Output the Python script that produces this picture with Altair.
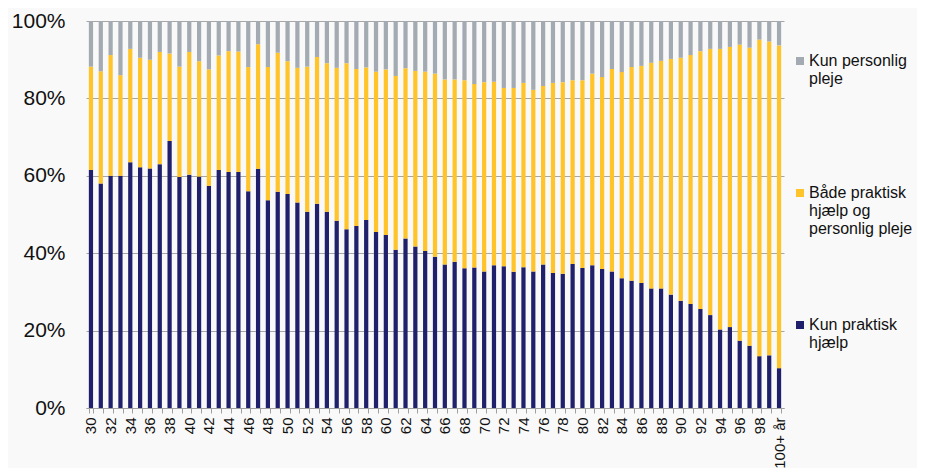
import altair as alt
import pandas as pd

ages = [str(a) for a in range(30, 100)] + ["100+ år"]

kun_praktisk = [
    61.5, 58.0, 60.0, 60.0, 63.5, 62.2, 61.9, 63.0, 69.0, 59.7,
    60.3, 59.8, 57.4, 61.5, 61.0, 61.0, 56.0, 61.8, 53.7, 55.9,
    55.3, 53.1, 50.7, 52.8, 50.7, 48.4, 46.2, 47.0, 48.6, 45.5,
    44.7, 40.9, 43.8, 41.7, 40.6, 39.1, 37.1, 37.8, 36.1, 36.3,
    35.3, 36.9, 36.6, 35.2, 36.4, 35.3, 37.1, 34.9, 34.7, 37.2,
    36.2, 36.9, 35.9, 35.3, 33.5, 32.9, 32.3, 30.9, 30.9, 29.3,
    27.7, 26.9, 25.6, 24.0, 20.3, 20.9, 17.4, 16.1, 13.4, 13.6,
    10.3,
]
begge = [
    26.7, 29.0, 31.2, 26.0, 29.3, 28.3, 28.1, 29.0, 22.6, 28.5,
    31.7, 29.8, 30.1, 29.6, 31.2, 31.1, 32.1, 32.2, 34.4, 35.9,
    34.3, 34.8, 37.5, 37.9, 38.4, 39.5, 42.9, 40.6, 39.4, 41.4,
    42.8, 44.9, 44.0, 45.4, 46.3, 47.3, 47.8, 47.1, 48.6, 47.4,
    48.9, 47.4, 46.1, 47.5, 47.6, 46.9, 46.1, 49.1, 49.5, 47.5,
    48.5, 49.5, 49.6, 52.3, 53.3, 55.2, 56.1, 58.3, 58.8, 60.9,
    62.8, 64.3, 66.6, 68.8, 72.5, 72.4, 76.5, 77.0, 81.8, 81.1,
    83.4,
]
kun_personlig = [
    11.8, 13.0, 8.8, 14.0, 7.2, 9.5, 10.0, 8.0, 8.4, 11.8,
    8.0, 10.4, 12.5, 8.9, 7.8, 7.9, 11.9, 6.0, 11.9, 8.2,
    10.4, 12.1, 11.8, 9.3, 10.9, 12.1, 10.9, 12.4, 12.0, 13.1,
    12.5, 14.2, 12.2, 12.9, 13.1, 13.6, 15.1, 15.1, 15.3, 16.3,
    15.8, 15.7, 17.3, 17.3, 16.0, 17.8, 16.8, 16.0, 15.8, 15.3,
    15.3, 13.6, 14.5, 12.4, 13.2, 11.9, 11.6, 10.8, 10.3, 9.8,
    9.5, 8.8, 7.8, 7.2, 7.2, 6.7, 6.1, 6.9, 4.8, 5.3,
    6.3,
]

series_names = [
    "Kun personlig pleje",
    "Både praktisk hjælp og personlig pleje",
    "Kun praktisk hjælp",
]
series_colors = ["#A3AAB1", "#FFC42A", "#1F1F6C"]

rows = []
for i, age in enumerate(ages):
    for order, (name, vals) in enumerate([
        (series_names[2], kun_praktisk),
        (series_names[1], begge),
        (series_names[0], kun_personlig),
    ]):
        rows.append({"alder": age, "gruppe": name, "andel": vals[i], "orden": order})
df = pd.DataFrame(rows)

legend_label_expr = (
    "datum.label == 'Kun personlig pleje' ? ['Kun personlig', 'pleje', ''] : "
    "datum.label == 'Kun praktisk hjælp' ? ['Kun praktisk', 'hjælp', ''] : "
    "['Både praktisk', 'hjælp og', 'personlig pleje']"
)

chart = alt.Chart(df).mark_bar().encode(
    x=alt.X(
        "alder:N",
        sort=ages,
        scale=alt.Scale(paddingInner=0.57, paddingOuter=0.29),
        axis=alt.Axis(
            title=None,
            labelAngle=-90,
            labelExpr="parseInt(datum.label) % 2 == 0 ? datum.label : ''",
            tickBand="extent",
            tickSize=5,
            labelPadding=4,
            labelFontSize=15,
            labelColor="#111111",
            domainColor="#A0A0A0",
            tickColor="#A0A0A0",
            grid=False,
        ),
    ),
    y=alt.Y(
        "andel:Q",
        stack="normalize",
        scale=alt.Scale(domain=[0, 1], nice=False),
        axis=alt.Axis(
            title=None,
            format=".0%",
            values=[0, 0.2, 0.4, 0.6, 0.8, 1.0],
            domain=False,
            ticks=False,
            labelPadding=21,
            labelFontSize=21,
            labelColor="#111111",
            gridColor="#A6A6A6",
            gridWidth=1,
        ),
    ),
    color=alt.Color(
        "gruppe:N",
        scale=alt.Scale(domain=series_names, range=series_colors),
        legend=alt.Legend(
            title=None,
            orient="none",
            legendX=706,
            legendY=32,
            padding=0,
            symbolType="square",
            symbolSize=64,
            symbolStrokeWidth=0,
            labelExpr=legend_label_expr,
            labelFontSize=16,
            labelColor="#111111",
            labelOffset=1,
            labelLimit=200,
            rowPadding=80,
        ),
    ),
    order=alt.Order("orden:Q", sort="ascending"),
).properties(
    width=698,
    height=387,
    background="#F9F9F9",
    padding={"left": 78, "top": 13, "right": 133, "bottom": 60},
    autosize=alt.AutoSizeParams(type="none"),
).configure(
    font="Liberation Sans",
).configure_view(
    stroke=None,
)

chart.save("out.html", embed_options={"renderer": "svg", "actions": False})
